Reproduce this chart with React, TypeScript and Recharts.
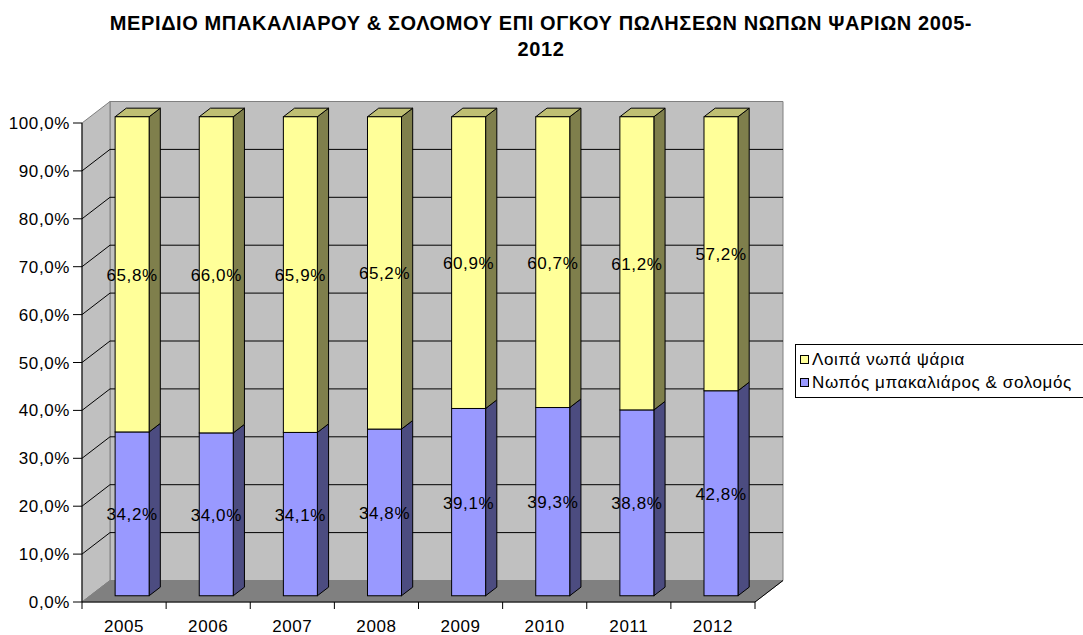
import { BarChart, Bar, XAxis, YAxis, CartesianGrid, Legend, LabelList } from 'recharts';

const years = ['2005', '2006', '2007', '2008', '2009', '2010', '2011', '2012'];
const codSalmon = [34.2, 34.0, 34.1, 34.8, 39.1, 39.3, 38.8, 42.8];
const otherFish = [65.8, 66.0, 65.9, 65.2, 60.9, 60.7, 61.2, 57.2];
const yTicks = [0, 10, 20, 30, 40, 50, 60, 70, 80, 90, 100];
const codName = 'Νωπός μπακαλιάρος & σολομός';
const otherName = 'Λοιπά νωπά ψάρια';
const titleLines = ['ΜΕΡΙΔΙΟ ΜΠΑΚΑΛΙΑΡΟΥ & ΣΟΛΟΜΟΥ ΕΠΙ ΟΓΚΟΥ ΠΩΛΗΣΕΩΝ ΝΩΠΩΝ ΨΑΡΙΩΝ 2005-', '2012'];

const data = years.map((year, i) => ({ year, cod: codSalmon[i], other: otherFish[i] }));

const W = 1083;
const H = 635;
const MARGIN = { top: 123, right: 328, bottom: 3, left: 22 };
const Y_AXIS_W = 60;
const X_AXIS_H = 30;
const PLOT_X = MARGIN.left + Y_AXIS_W;
const PLOT_Y = MARGIN.top;
const PLOT_W = W - PLOT_X - MARGIN.right;
const PLOT_H = H - MARGIN.top - MARGIN.bottom - X_AXIS_H;

// 3D look: offset of the back wall, and where the bars sit in the depth
const DX = 28;
const DY = -21.5;
const BAR_OFF = 0.29;
const BAR_DEPTH = 0.4;

const FONT = '"Liberation Sans", Arial, Helvetica, sans-serif';
const FS = 17;
const LS = 0.6;

const YELLOW = { front: '#FFFF99', side: '#7F7F4C', top: '#BFBF73' };
const BLUE = { front: '#9999FF', side: '#4C4C80', top: '#7373BF' };

const pct = (v: number) => v.toFixed(1).replace('.', ',') + '%';

const make3DBar = (c: { front: string; side: string; top: string }, drawTop: boolean) => (props: any) => {
  const { x, y, width, height } = props;
  if (!width || !height) return <g />;
  const fx = x + DX * BAR_OFF;
  const fy = y + DY * BAR_OFF;
  const sx = DX * BAR_DEPTH;
  const sy = DY * BAR_DEPTH;
  return (
    <g>
      <polygon
        points={`${fx + width},${fy} ${fx + width + sx},${fy + sy} ${fx + width + sx},${fy + height + sy} ${fx + width},${fy + height}`}
        fill={c.side}
        stroke="#000"
        strokeLinejoin="round"
      />
      {drawTop && (
        <polygon
          points={`${fx},${fy} ${fx + sx},${fy + sy} ${fx + width + sx},${fy + sy} ${fx + width},${fy}`}
          fill={c.top}
          stroke="#000"
          strokeLinejoin="round"
        />
      )}
      <rect x={fx} y={fy} width={width} height={height} fill={c.front} stroke="#000" />
    </g>
  );
};

const BarValue = (props: any) => {
  const { x, y, width, height, value } = props;
  return (
    <text
      x={x + width / 2 + DX * BAR_OFF}
      y={y + height / 2 + DY * BAR_OFF + 1}
      textAnchor="middle"
      dominantBaseline="central"
      fontSize={FS}
      fontFamily={FONT}
      letterSpacing={LS}
      fill="#000"
    >
      {pct(Number(value))}
    </text>
  );
};

const WallLine = (props: any) => {
  const { x1, y1, x2, index } = props;
  const left = props.x ?? PLOT_X;
  const top = props.y ?? PLOT_Y;
  const right = left + (props.width ?? PLOT_W);
  const bottom = top + (props.height ?? PLOT_H);
  const isTop = Math.abs(y1 - top) < 1;
  const isBottom = Math.abs(y1 - bottom) < 1;
  return (
    <g>
      {index === 0 && (
        <g>
          <polygon
            points={`${left + DX},${top + DY} ${right + DX},${top + DY} ${right + DX},${bottom + DY} ${left + DX},${bottom + DY}`}
            fill="#C0C0C0"
            stroke="#808080"
          />
          <polygon
            points={`${left},${top} ${left + DX},${top + DY} ${left + DX},${bottom + DY} ${left},${bottom}`}
            fill="#C0C0C0"
            stroke="#808080"
          />
          <polygon
            points={`${left},${bottom} ${left + DX},${bottom + DY} ${right + DX},${bottom + DY} ${right},${bottom}`}
            fill="#808080"
            stroke="#808080"
          />
          <line x1={right} y1={bottom} x2={right + DX} y2={bottom + DY} stroke="#000" />
        </g>
      )}
      {!isTop && !isBottom && (
        <g>
          <line x1={x1} y1={y1} x2={x1 + DX} y2={y1 + DY} stroke="#000" />
          <line x1={x1 + DX} y1={y1 + DY} x2={x2 + DX} y2={y1 + DY} stroke="#000" />
        </g>
      )}
    </g>
  );
};

const YearTick = (props: any) => {
  const { x, y, payload, index } = props;
  const band = PLOT_W / years.length;
  const axisY = y - 8;
  return (
    <g>
      <line x1={x - band / 2} y1={axisY} x2={x - band / 2} y2={axisY + 7} stroke="#000" />
      {index === years.length - 1 && (
        <line x1={x + band / 2} y1={axisY} x2={x + band / 2} y2={axisY + 7} stroke="#000" />
      )}
      <text x={x} y={axisY + 30} textAnchor="middle" fontSize={FS} fontFamily={FONT} letterSpacing={LS} fill="#000">
        {payload.value}
      </text>
    </g>
  );
};

const LegendBox = () => (
  <div
    style={{
      border: '1px solid #000',
      background: '#fff',
      padding: '3px 8px 3px 4px',
      fontFamily: FONT,
      fontSize: FS,
      letterSpacing: LS,
      lineHeight: '23px',
      width: 320,
      boxSizing: 'border-box',
      color: '#000',
      whiteSpace: 'nowrap',
    }}
  >
    {[
      { name: otherName, color: YELLOW.front },
      { name: codName, color: BLUE.front },
    ].map((item) => (
      <div key={item.name} style={{ display: 'flex', alignItems: 'center' }}>
        <span
          style={{
            display: 'inline-block',
            width: 7,
            height: 7,
            border: '1px solid #000',
            background: item.color,
            marginRight: 3,
          }}
        />
        {item.name}
      </div>
    ))}
  </div>
);

export default function App() {
  return (
    <div style={{ position: 'absolute', left: 0, top: 0, width: W, height: H, overflow: 'hidden', background: '#fff' }}>
      <div
        style={{
          position: 'absolute',
          left: 0,
          top: 0,
          width: 1082,
          textAlign: 'center',
          fontFamily: FONT,
          fontWeight: 'bold',
          fontSize: 20,
          letterSpacing: 0.6,
          zIndex: 2,
        }}
      >
        {titleLines.map((line, i) => (
          <div key={i} style={{ position: 'absolute', left: 0, right: 0, top: 11 + i * 25.7, lineHeight: '24px' }}>
            {line}
          </div>
        ))}
      </div>
      <BarChart width={W} height={H} data={data} margin={MARGIN}>
        <CartesianGrid horizontal={WallLine as any} vertical={false} stroke="#000" />
        <XAxis
          dataKey="year"
          height={X_AXIS_H}
          axisLine={{ stroke: '#000' }}
          tickLine={false}
          tickSize={6}
          tickMargin={2}
          interval={0}
          tick={<YearTick />}
        />
        <YAxis
          width={Y_AXIS_W}
          domain={[0, 100]}
          ticks={yTicks}
          interval={0}
          tickFormatter={pct}
          axisLine={{ stroke: '#000' }}
          tickLine={{ stroke: '#000' }}
          tickSize={9}
          tickMargin={3}
          tick={{ fontSize: FS, fontFamily: FONT, fill: '#000', letterSpacing: LS } as any}
        />
        <Legend
          layout="horizontal"
          align="center"
          verticalAlign="middle"
          content={<LegendBox />}
          wrapperStyle={{ position: 'absolute', left: 795, top: 344, width: 320, height: 'auto' }}
        />
        <Bar dataKey="cod" name={codName} stackId="a" barSize={34} shape={make3DBar(BLUE, false)} isAnimationActive={false}>
          <LabelList dataKey="cod" content={<BarValue />} />
        </Bar>
        <Bar dataKey="other" name={otherName} stackId="a" barSize={34} shape={make3DBar(YELLOW, true)} isAnimationActive={false}>
          <LabelList dataKey="other" content={<BarValue />} />
        </Bar>
      </BarChart>
    </div>
  );
}
